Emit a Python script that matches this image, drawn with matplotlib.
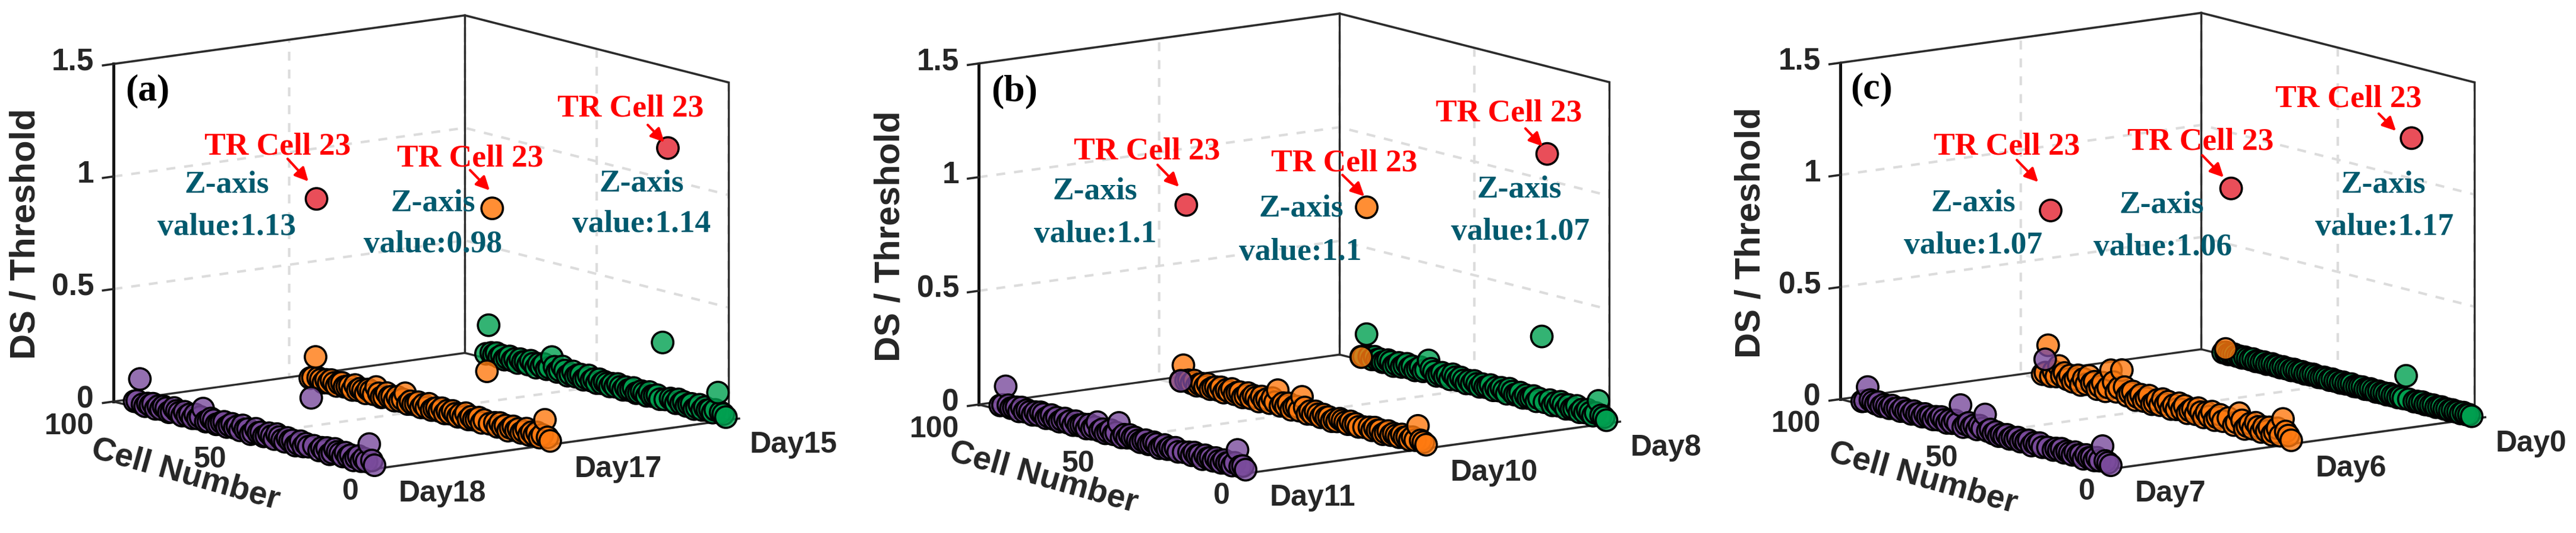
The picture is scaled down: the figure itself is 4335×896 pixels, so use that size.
import matplotlib
matplotlib.use("Agg")
import matplotlib.pyplot as plt
import numpy as np
from matplotlib.colors import to_rgba
from matplotlib.patches import FancyArrowPatch
from mpl_toolkits.mplot3d import proj3d

W, H = 4335, 896

plt.rcParams['grid.color'] = '#dcdcdc'
plt.rcParams['grid.linewidth'] = 3.0
plt.rcParams['grid.linestyle'] = (0, (3.6, 3.6))
plt.rcParams['font.family'] = 'Liberation Sans'
plt.rcParams['font.weight'] = 'bold'

# DS / threshold per cell (cells 1..92)
a_day18 = [.012, .03, .10, .02, .03, .015, .035, .025, .01, .03,
           .02, .035, .015, .025, .03, .04, .02, .01, .035, .02,
           .03, .015, 1.13, .03, .24, .02, .03, .015, .035, .02,
           .01, .03, .025, .035, .015, .02, .03, .04, .015, .025,
           .035, .02, .015, .03, .025, .04, .02, .01, .03, .025,
           .04, .015, .03, .02, .035, .025, .015, .035, .03, .02,
           .015, .03, .035, .02, .015, .07, .03, .02, .035, .015,
           .03, .02, .035, .015, .025, .03, .04, .02, .015, .03,
           .035, .02, .03, .015, .035, .025, .03, .015, .02, .13,
           .03, .025]
a_day17 = [.012, .025, .10, .03, .015, .035, .02, .03, .015, .04,
           .025, .015, .03, .02, .035, .025, .01, .03, .02, .035,
           .015, .03, .98, .02, .25, .03, .015, .035, .025, .02,
           .03, .015, .04, .02, .03, .015, .025, .035, .02, .03,
           .015, .035, .02, .03, .025, .015, .04, .02, .03, .015,
           .035, .025, .02, .03, .015, .06, .03, .02, .035, .015,
           .03, .025, .04, .02, .015, .03, .055, .02, .03, .035,
           .015, .025, .03, .02, .04, .015, .03, .025, .02, .035,
           .03, .015, .025, .035, .02, .03, .015, .025, .03, .12,
           .025, .02]
a_day15 = [.01, .02, .025, .11, .03, .015, .025, .02, .03, .015,
           .035, .02, .01, .03, .025, .015, .03, .02, .035, .015,
           .025, .03, 1.14, .02, .27, .015, .03, .025, .02, .035,
           .015, .025, .03, .02, .015, .035, .025, .02, .03, .015,
           .025, .035, .02, .03, .015, .025, .03, .02, .035, .015,
           .03, .02, .04, .025, .015, .035, .03, .02, .04, .025,
           .015, .035, .05, .03, .02, .04, .08, .03, .02, .04,
           .025, .035, .015, .03, .04, .02, .03, .025, .035, .015,
           .03, .02, .035, .025, .015, .03, .02, .035, .025, .03,
           .15, .02]
b_day11 = [.012, .025, .02, .09, .03, .015, .025, .02, .03, .015,
           .02, .03, .015, .025, .02, .03, .01, .025, .02, .03,
           .015, .025, 1.11, .02, .33, .015, .03, .02, .025, .015,
           .03, .02, .01, .025, .03, .02, .015, .03, .025, .015,
           .02, .03, .025, .035, .02, .03, .015, .076, .03, .02,
           .035, .025, .015, .03, .02, .055, .03, .02, .035, .015,
           .03, .025, .02, .035, .015, .03, .02, .035, .025, .015,
           .03, .02, .035, .025, .015, .03, .035, .02, .03, .015,
           .025, .03, .02, .035, .015, .03, .025, .02, .03, .11,
           .025, .02]
b_day10 = [.012, .02, .025, .086, .02, .03, .015, .025, .02, .03,
           .015, .02, .025, .015, .03, .02, .01, .025, .02, .03,
           .015, .025, .99, .02, .325, .015, .025, .02, .03, .015,
           .02, .025, .03, .015, .02, .01, .025, .02, .03, .015,
           .025, .035, .02, .03, .015, .04, .084, .02, .035, .03,
           .015, .04, .025, .035, .02, .086, .03, .045, .02, .035,
           .025, .04, .015, .03, .035, .02, .04, .025, .015, .035,
           .03, .02, .04, .025, .03, .015, .035, .02, .03, .025,
           .015, .035, .02, .03, .025, .015, .035, .02, .03, .025,
           .09, .02]
b_day8 = [.01, .02, .025, .086, .03, .015, .025, .035, .02, .03,
          .015, .04, .025, .02, .035, .015, .03, .04, .02, .03,
          .015, .035, 1.115, .02, .306, .03, .015, .035, .025, .02,
          .03, .015, .035, .025, .02, .03, .04, .015, .025, .035,
          .02, .03, .015, .035, .025, .02, .03, .015, .025, .035,
          .02, .03, .015, .025, .035, .02, .03, .04, .015, .03,
          .02, .035, .025, .015, .03, .04, .074, .03, .02, .035,
          .025, .015, .03, .02, .035, .025, .015, .03, .02, .01,
          .025, .03, .02, .015, .025, .02, .03, .015, .025, .12,
          .02, .015]
c_day7 = [.012, .02, .025, .088, .02, .03, .015, .025, .02, .03,
          .01, .025, .02, .03, .015, .02, .025, .015, .03, .02,
          .025, .015, 1.08, .02, .41, .015, .03, .02, .025, .01,
          .03, .02, .025, .015, .03, .02, .025, .015, .03, .02,
          .025, .015, .03, .02, .035, .025, .096, .03, .04, .02,
          .035, .025, .04, .03, .015, .11, .025, .035, .02, .03,
          .015, .025, .035, .02, .03, .015, .025, .02, .03, .015,
          .025, .02, .03, .015, .025, .02, .03, .015, .025, .02,
          .03, .015, .02, .025, .015, .03, .02, .025, .03, .085,
          .02, .015]
c_day6 = [.012, .03, .045, .098, .02, .05, .03, .015, .045, .025,
          .04, .015, .035, .05, .02, .04, .025, .01, .045, .074,
          .03, .015, 1.067, .04, .345, .02, .045, .03, .015, .05,
          .025, .04, .015, .035, .05, .02, .04, .03, .015, .045,
          .025, .05, .02, .035, .015, .045, .03, .05, .02, .04,
          .025, .015, .05, .035, .02, .045, .03, .015, .05, .04,
          .025, .06, .133, .05, .03, .07, .12, .04, .02, .055,
          .035, .02, .05, .04, .07, .03, .05, .02, .06, .04,
          .025, .05, .03, .055, .04, .08, .03, .05, .025, .16,
          .035, .025]
c_day0 = [.008, .012, .01, .015, .008, .012, .01, .014, .008, .012,
          .01, .015, .012, .008, .014, .01, .012, .008, .015, .01,
          .012, .008, 1.18, .012, .114, .01, .014, .008, .012, .01,
          .015, .008, .012, .01, .014, .008, .012, .015, .01, .008,
          .014, .012, .01, .008, .015, .012, .01, .014, .008, .012,
          .01, .015, .008, .012, .014, .01, .008, .012, .015, .01,
          .012, .008, .014, .01, .012, .015, .008, .012, .01, .014,
          .008, .012, .01, .015, .012, .008, .014, .01, .012, .008,
          .015, .01, .012, .014, .008, .012, .01, .015, .012, .008,
          .014, .01]

panel_series = [[a_day18, a_day17, a_day15],
                [b_day11, b_day10, b_day8],
                [c_day7, c_day6, c_day0]]
panel_days = [['Day18', 'Day17', 'Day15'],
              ['Day11', 'Day10', 'Day8'],
              ['Day7', 'Day6', 'Day0']]
panel_names = ['(a)', '(b)', '(c)']
tr_values = [['1.13', '0.98', '1.14'], ['1.1', '1.1', '1.07'], ['1.07', '1.06', '1.17']]

day_pos = [0, 0.5, 1]
cell_ticks = [0, 50, 100]
z_ticks = [0, 0.5, 1, 1.5]
z_tick_labels = ['0', '0.5', '1', '1.5']
series_colors = ['#7a4b9c', '#ff7a10', '#00a050']
red = '#e62f3c'
tr_colors = [[red, '#ff7a10', red], [red, '#ff7a10', red], [red, red, red]]
tr_cell = 23

# pixel layout of each panel
left_corner = [(191, 675), (1647, 680), (3097, 671)]
right_corner = [(1226, 706), (2708, 714), (4164, 703)]
box_aspects = [(735, 748, 578), (755, 765, 584), (755, 775, 576)]
cell_label_off = [(-45, 39), (-60, 42), (-75, 42)]
name_xy = [(248, 153), (1707, 154), (3150, 150)]
zlabel_xy = [(43, 393), (1498, 397), (2946, 391)]
ylabel_xy = [(312, 798), (1756, 803), (3236, 804)]
tr_xy = [[(467, 247), (791, 266), (1061, 183)],
         [(1930, 254), (2262, 275), (2539, 190)],
         [(3377, 246), (3703, 239), (3952, 167)]]
axis_xy = [[(382, 310), (729, 341), (1080, 309)],
           [(1843, 321), (2190, 351), (2557, 319)],
           [(3321, 341), (3638, 345), (4011, 311)]]
val_xy = [[(382, 382), (728, 411), (1080, 377)],
          [(1843, 394), (2188, 424), (2558, 390)],
          [(3321, 413), (3640, 416), (4012, 382)]]
arrows = [[((484, 267), (519, 305)), ((791, 286), (824, 320)), ((1090, 210), (1118, 239))],
          [((1948, 277), (1984, 314)), ((2259, 294), (2296, 330)), ((2567, 216), (2596, 246))],
          [((3394, 269), (3430, 306)), ((3706, 261), (3742, 298)), ((4003, 191), (4032, 220))]]

# edges of the open box: (day, cell, z) end points
box_edges = [((0, 100, 0), (0, 100, 1.5)), ((1, 100, 0), (1, 100, 1.5)), ((1, 0, 0), (1, 0, 1.5)),
             ((0, 100, 1.5), (1, 100, 1.5)), ((1, 100, 1.5), (1, 0, 1.5)),
             ((0, 100, 0), (1, 100, 0)), ((1, 100, 0), (1, 0, 0)),
             ((1.03, 0, 0), (0, 0, 0)), ((0, 0, 0), (0, 100, 0))]
edge_widths = [3.6, 2.4, 2.4, 2.6, 2.6, 2.4, 2.4, 2.6, 2.6]

fig = plt.figure(figsize=(W / 100, H / 100), dpi=100, facecolor='white')


def fx(p):
    return p[0] / W, 1 - p[1] / H


def corner_px(ax, x, y, z):
    xs, ys, _ = proj3d.proj_transform(x, y, z, ax.get_proj())
    return ax.transData.transform((xs, ys))


# move and scale the square axes so the floor corners land on the wanted pixels
def fit_axes(ax, left, right):
    side = 800.0
    ax.set_position([0.1, 0.1, side / W, side / H])
    ax.apply_aspect()
    a = corner_px(ax, 0, 100, 0)
    b = corner_px(ax, 1, 0, 0)
    side *= (right[0] - left[0]) / (b[0] - a[0])
    ax.set_position([0.1, 0.1, side / W, side / H])
    ax.apply_aspect()
    a = corner_px(ax, 0, 100, 0)
    dx = left[0] - a[0]
    dy = (H - left[1]) - a[1]
    ax.set_position([0.1 + dx / W, 0.1 + dy / H, side / W, side / H])
    ax.apply_aspect()


# tick label placed at a pixel offset from the projected tick (y offset downwards)
def tick_text(ax, where, off, label, **kw):
    p = corner_px(ax, *where)
    fig.text((p[0] + off[0]) / W, (p[1] - off[1]) / H, label, color='#262626', va='center', **kw)


for i in range(3):
    ax = fig.add_subplot(projection='3d', proj_type='ortho', computed_zorder=False)
    ax.patch.set_visible(False)
    ax.view_init(elev=10.8, azim=-126.4)
    ax.set_box_aspect(box_aspects[i])

    for edge, lw in zip(box_edges, edge_widths):
        ax.plot(*zip(*edge), color='#111111' if lw > 3 else '#2b2b2b', linewidth=lw, zorder=1)
    # short tick marks left of the z axis
    for val in z_ticks:
        ax.plot([0, -0.03], [100, 100], [val, val], color='#262626', linewidth=2.6, zorder=1)

    # purple in front of orange in front of green
    for d in range(3):
        z = np.array(panel_series[i][d])
        cells = np.arange(1, len(z) + 1)
        colors = [to_rgba(series_colors[d], 0.8)] * len(z)
        colors[tr_cell - 1] = to_rgba(tr_colors[i][d], 0.85)
        ax.scatter(np.full(len(z), day_pos[d]), cells, z, s=680, c=colors,
                   edgecolors='black', linewidths=2.6, depthshade=False, zorder=5 - d)

    ax.set_xlim(0, 1, view_margin=0)
    ax.set_ylim(0, 100, view_margin=0)
    ax.set_zlim(0, 1.5, view_margin=0)
    ax.set_xticks(day_pos)
    ax.set_xticklabels([])
    ax.set_yticks(cell_ticks)
    ax.set_yticklabels([])
    ax.set_zticks(z_ticks)
    ax.set_zticklabels([])
    ax.tick_params(axis='x', length=0)
    ax.tick_params(axis='y', length=0)

    for axis in (ax.xaxis, ax.yaxis, ax.zaxis):
        axis.set_pane_color('white')
        axis.pane.set_edgecolor('white')
        axis.line.set_color('none')
        axis._axinfo['tick']['linewidth'] = {True: 0, False: 0}

    fit_axes(ax, left_corner[i], right_corner[i])

    for val, lab in zip(z_ticks, z_tick_labels):
        tick_text(ax, (0, 100, val), (-33, -3), lab, fontsize=37, ha='right')
    for val, off in zip(cell_ticks, cell_label_off):
        tick_text(ax, (0, val, 0), off, str(val), fontsize=36, ha='center')
    for val, lab in zip(day_pos, panel_days[i]):
        tick_text(ax, (val, 0, 0), (36, 42), lab, fontsize=36, ha='left')

    x, y = fx(zlabel_xy[i])
    fig.text(x, y, 'DS / Threshold', rotation=90, fontsize=43, color='#262626',
             ha='center', va='center')
    x, y = fx(ylabel_xy[i])
    fig.text(x, y, 'Cell Number', rotation=-15.7, fontsize=40, color='#262626',
             ha='center', va='center', rotation_mode='anchor')
    x, y = fx(name_xy[i])
    fig.text(x, y, panel_names[i], family='Liberation Serif', fontsize=46, color='black',
             ha='center', va='center')

    for d in range(3):
        x, y = fx(tr_xy[i][d])
        fig.text(x, y, 'TR Cell 23', family='Liberation Serif', fontsize=38.5, color='red',
                 ha='center', va='center')
        x, y = fx(axis_xy[i][d])
        fig.text(x, y, 'Z-axis', family='Liberation Serif', fontsize=38.5, color='#005a6e',
                 ha='center', va='center')
        x, y = fx(val_xy[i][d])
        fig.text(x, y, 'value:' + tr_values[i][d], family='Liberation Serif', fontsize=38.5,
                 color='#005a6e', ha='center', va='center')
        start, end = arrows[i][d]
        fig.add_artist(FancyArrowPatch(fx(start), fx(end), transform=fig.transFigure,
                                       arrowstyle='-|>', mutation_scale=34, color='red',
                                       linewidth=3, shrinkA=0, shrinkB=0))

fig.savefig('out.png', dpi=100)
